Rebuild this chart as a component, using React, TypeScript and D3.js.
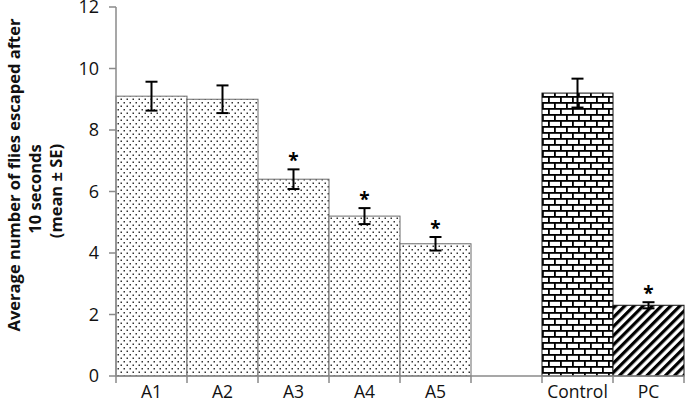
import React, { useEffect, useRef } from 'react';
import * as d3 from 'd3';

// 'gap' is an empty slot on the category axis
const categories = ['A1', 'A2', 'A3', 'A4', 'A5', 'gap', 'Control', 'PC'];
const categoryLabels = ['A1', 'A2', 'A3', 'A4', 'A5', '', 'Control', 'PC'];
const means = [9.1, 9.0, 6.4, 5.2, 4.3, null, 9.2, 2.3];
const errors = [0.47, 0.45, 0.32, 0.26, 0.22, null, 0.47, 0.1];
const significant = [false, false, true, true, true, false, false, true];
const fills = ['dots', 'dots', 'dots', 'dots', 'dots', 'none', 'brick', 'stripes'];
const yTicks = [0, 2, 4, 6, 8, 10, 12];

export default function App() {
  const svgRef = useRef<SVGSVGElement>(null);

  useEffect(() => {
    if (!svgRef.current) return;
    const svg = d3.select(svgRef.current);
    svg.selectAll('*').remove();

    const width = 685;
    const height = 409;
    const left = 116;
    const right = 684;
    const top = 7;
    const bottom = 376;
    const font = '"Open Sans", sans-serif';
    const axisColor = '#8a8a8a';

    const x = d3.scaleBand<string>().domain(categories).range([left, right]).padding(0);
    const y = d3.scaleLinear().domain([0, 12]).range([bottom, top]);

    svg.attr('width', width).attr('height', height);
    svg.append('rect').attr('width', width).attr('height', height).attr('fill', 'white');

    // patterns
    const defs = svg.append('defs');
    const dots = defs.append('pattern')
      .attr('id', 'dots')
      .attr('patternUnits', 'userSpaceOnUse')
      .attr('width', 6)
      .attr('height', 7);
    dots.append('rect').attr('width', 6).attr('height', 7).attr('fill', 'white');
    dots.append('rect').attr('x', 0.5).attr('y', 0.5).attr('width', 1.5).attr('height', 1.5).attr('fill', '#333');
    dots.append('rect').attr('x', 3.5).attr('y', 4).attr('width', 1.5).attr('height', 1.5).attr('fill', '#333');

    const brick = defs.append('pattern')
      .attr('id', 'brick')
      .attr('patternUnits', 'userSpaceOnUse')
      .attr('width', 12)
      .attr('height', 12)
      .attr('x', left)
      .attr('y', 0);
    brick.append('rect').attr('width', 12).attr('height', 12).attr('fill', 'white');
    brick.append('rect').attr('x', 0).attr('y', 0).attr('width', 12).attr('height', 1.8).attr('fill', '#000');
    brick.append('rect').attr('x', 0).attr('y', 6).attr('width', 12).attr('height', 1.8).attr('fill', '#000');
    brick.append('rect').attr('x', 0).attr('y', 0).attr('width', 1.8).attr('height', 6).attr('fill', '#000');
    brick.append('rect').attr('x', 6).attr('y', 6).attr('width', 1.8).attr('height', 6).attr('fill', '#000');

    const stripes = defs.append('pattern')
      .attr('id', 'stripes')
      .attr('patternUnits', 'userSpaceOnUse')
      .attr('width', 6.5)
      .attr('height', 6.5)
      .attr('patternTransform', 'rotate(45)');
    stripes.append('rect').attr('width', 6.5).attr('height', 6.5).attr('fill', 'white');
    stripes.append('rect').attr('x', 0).attr('y', 0).attr('width', 3.2).attr('height', 6.5).attr('fill', '#000');

    // bars
    const idx = d3.range(categories.length).filter(i => means[i] !== null);
    svg.append('g')
      .selectAll('rect')
      .data(idx)
      .join('rect')
      .attr('x', i => x(categories[i])!)
      .attr('y', i => y(means[i] as number))
      .attr('width', x.bandwidth())
      .attr('height', i => bottom - y(means[i] as number))
      .attr('fill', i => `url(#${fills[i]})`)
      .attr('stroke', i => (fills[i] === 'dots' ? '#6b6b6b' : '#111'))
      .attr('stroke-width', 1);

    // axes
    const yAxis = svg.append('g');
    yAxis.append('line')
      .attr('x1', left).attr('x2', left)
      .attr('y1', y(12)).attr('y2', bottom)
      .attr('stroke', axisColor).attr('stroke-width', 1.5);
    yAxis.selectAll('line.tick')
      .data(yTicks)
      .join('line')
      .attr('class', 'tick')
      .attr('x1', left - 7).attr('x2', left)
      .attr('y1', d => y(d)).attr('y2', d => y(d))
      .attr('stroke', axisColor).attr('stroke-width', 1.5);
    yAxis.selectAll('text')
      .data(yTicks)
      .join('text')
      .attr('x', left - 17)
      .attr('y', d => y(d))
      .attr('dy', '0.36em')
      .attr('text-anchor', 'end')
      .attr('font-family', font)
      .attr('font-size', 18)
      .attr('fill', '#111')
      .text(d => d);

    const xAxis = svg.append('g');
    xAxis.append('line')
      .attr('x1', left).attr('x2', right)
      .attr('y1', bottom).attr('y2', bottom)
      .attr('stroke', axisColor).attr('stroke-width', 1.5);
    const edges = categories.map(c => x(c)!).concat([right]);
    xAxis.selectAll('line.tick')
      .data(edges)
      .join('line')
      .attr('class', 'tick')
      .attr('x1', d => d).attr('x2', d => d)
      .attr('y1', bottom).attr('y2', bottom + 7)
      .attr('stroke', axisColor).attr('stroke-width', 1.5);
    xAxis.selectAll('text')
      .data(categories)
      .join('text')
      .attr('x', c => x(c)! + x.bandwidth() / 2)
      .attr('y', 398)
      .attr('text-anchor', 'middle')
      .attr('font-family', font)
      .attr('font-size', 17.5)
      .attr('fill', '#111')
      .text((_, i) => categoryLabels[i]);

    // error bars
    const cap = 6;
    const eb = svg.append('g').attr('stroke', '#000').attr('stroke-width', 2);
    idx.forEach(i => {
      const cx = x(categories[i])! + x.bandwidth() / 2;
      const m = means[i] as number;
      const e = errors[i] as number;
      eb.append('line').attr('x1', cx).attr('x2', cx).attr('y1', y(m + e)).attr('y2', y(m - e));
      eb.append('line').attr('x1', cx - cap).attr('x2', cx + cap).attr('y1', y(m + e)).attr('y2', y(m + e));
      eb.append('line').attr('x1', cx - cap).attr('x2', cx + cap).attr('y1', y(m - e)).attr('y2', y(m - e));
      if (significant[i]) {
        svg.append('text')
          .attr('x', cx)
          .attr('y', y(m + e) - 2)
          .attr('text-anchor', 'middle')
          .attr('font-family', font)
          .attr('font-weight', 'bold')
          .attr('font-size', 19)
          .attr('fill', '#000')
          .text('*');
      }
    });

    // y label
    const labelAttrs = (sel: any) => sel
      .attr('text-anchor', 'middle')
      .attr('font-family', font)
      .attr('font-weight', 'bold')
      .attr('font-size', 16.5)
      .attr('fill', '#111');
    svg.append('text')
      .call(labelAttrs)
      .attr('transform', 'translate(20,175) rotate(-90)')
      .text('Average number of flies escaped after');
    svg.append('text')
      .call(labelAttrs)
      .attr('transform', 'translate(41,189) rotate(-90)')
      .text('10 seconds');
    svg.append('text')
      .call(labelAttrs)
      .attr('transform', 'translate(62,191) rotate(-90)')
      .text('(mean ± SE)');
  }, []);

  return (
    <div style={{ position: 'absolute', left: 0, top: 0 }}>
      <svg ref={svgRef}></svg>
    </div>
  );
}
